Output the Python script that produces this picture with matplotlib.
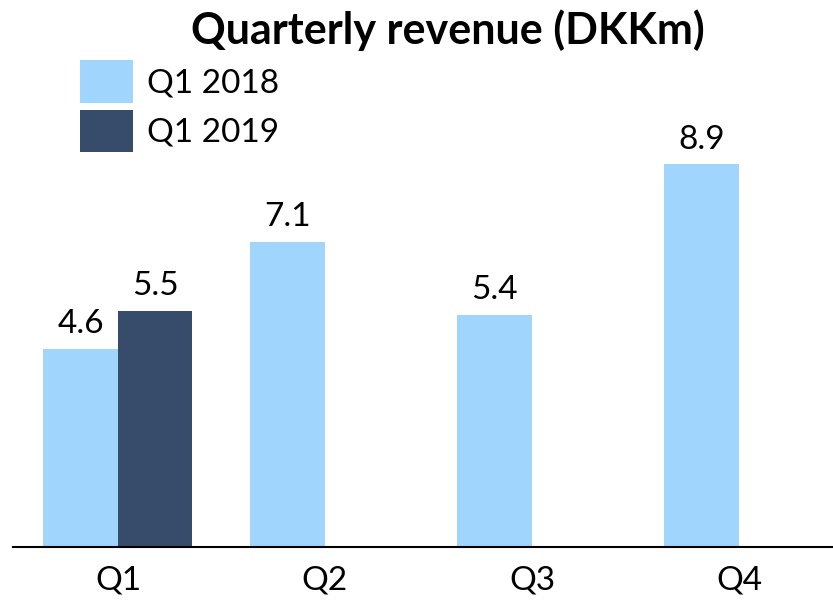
import matplotlib
matplotlib.use("Agg")
import matplotlib.pyplot as plt
import numpy as np

# data
quarters = ["Q1", "Q2", "Q3", "Q4"]
rev_2018 = [4.6, 7.1, 5.4, 8.9]
rev_2019 = [5.5]          # only Q1 2019 reported
labels = ["Q1 2018", "Q1 2019"]

light = "#A0D6FD"
dark = "#374C6B"

plt.rcParams['font.family'] = ['Lato', 'DejaVu Sans']

fig = plt.figure(figsize=(8.33, 6.03), dpi=100)
ax = fig.add_axes([13 / 833, 56 / 603, 820 / 833, 547 / 603])

x = np.arange(len(quarters))
w = 0.36

b1 = ax.bar(x - w / 2, rev_2018, w, color=light, label=labels[0])
b2 = ax.bar(x[:len(rev_2019)] + w / 2, rev_2019, w, color=dark, label=labels[1])

ax.bar_label(b1, fmt="%.1f", padding=7, fontsize=24)
ax.bar_label(b2, fmt="%.1f", padding=7, fontsize=24)

ax.set_xlim(-0.507, 3.454)
ax.set_ylim(0, 547 / 43)

ax.set_xticks(x)
ax.set_xticklabels(quarters, fontsize=24)
ax.tick_params(axis="x", length=0, pad=13)
ax.set_yticks([])

for s in ["top", "right", "left"]:
    ax.spines[s].set_visible(False)
ax.spines["bottom"].set_linewidth(1.5)
ax.spines["bottom"].set_color("black")

fig.text(448 / 833, 1 - 30 / 603, "Quarterly revenue (DKKm)", ha="center", va="center",
         fontsize=31, fontweight="bold")

fig.legend(loc="upper left", bbox_to_anchor=(80 / 833, 1 - 60 / 603), frameon=False,
           fontsize=24, handlelength=1.6, handleheight=1.6, labelspacing=0.2,
           handletextpad=0.4, borderpad=0, borderaxespad=0)

fig.savefig("out.png", dpi=100)
